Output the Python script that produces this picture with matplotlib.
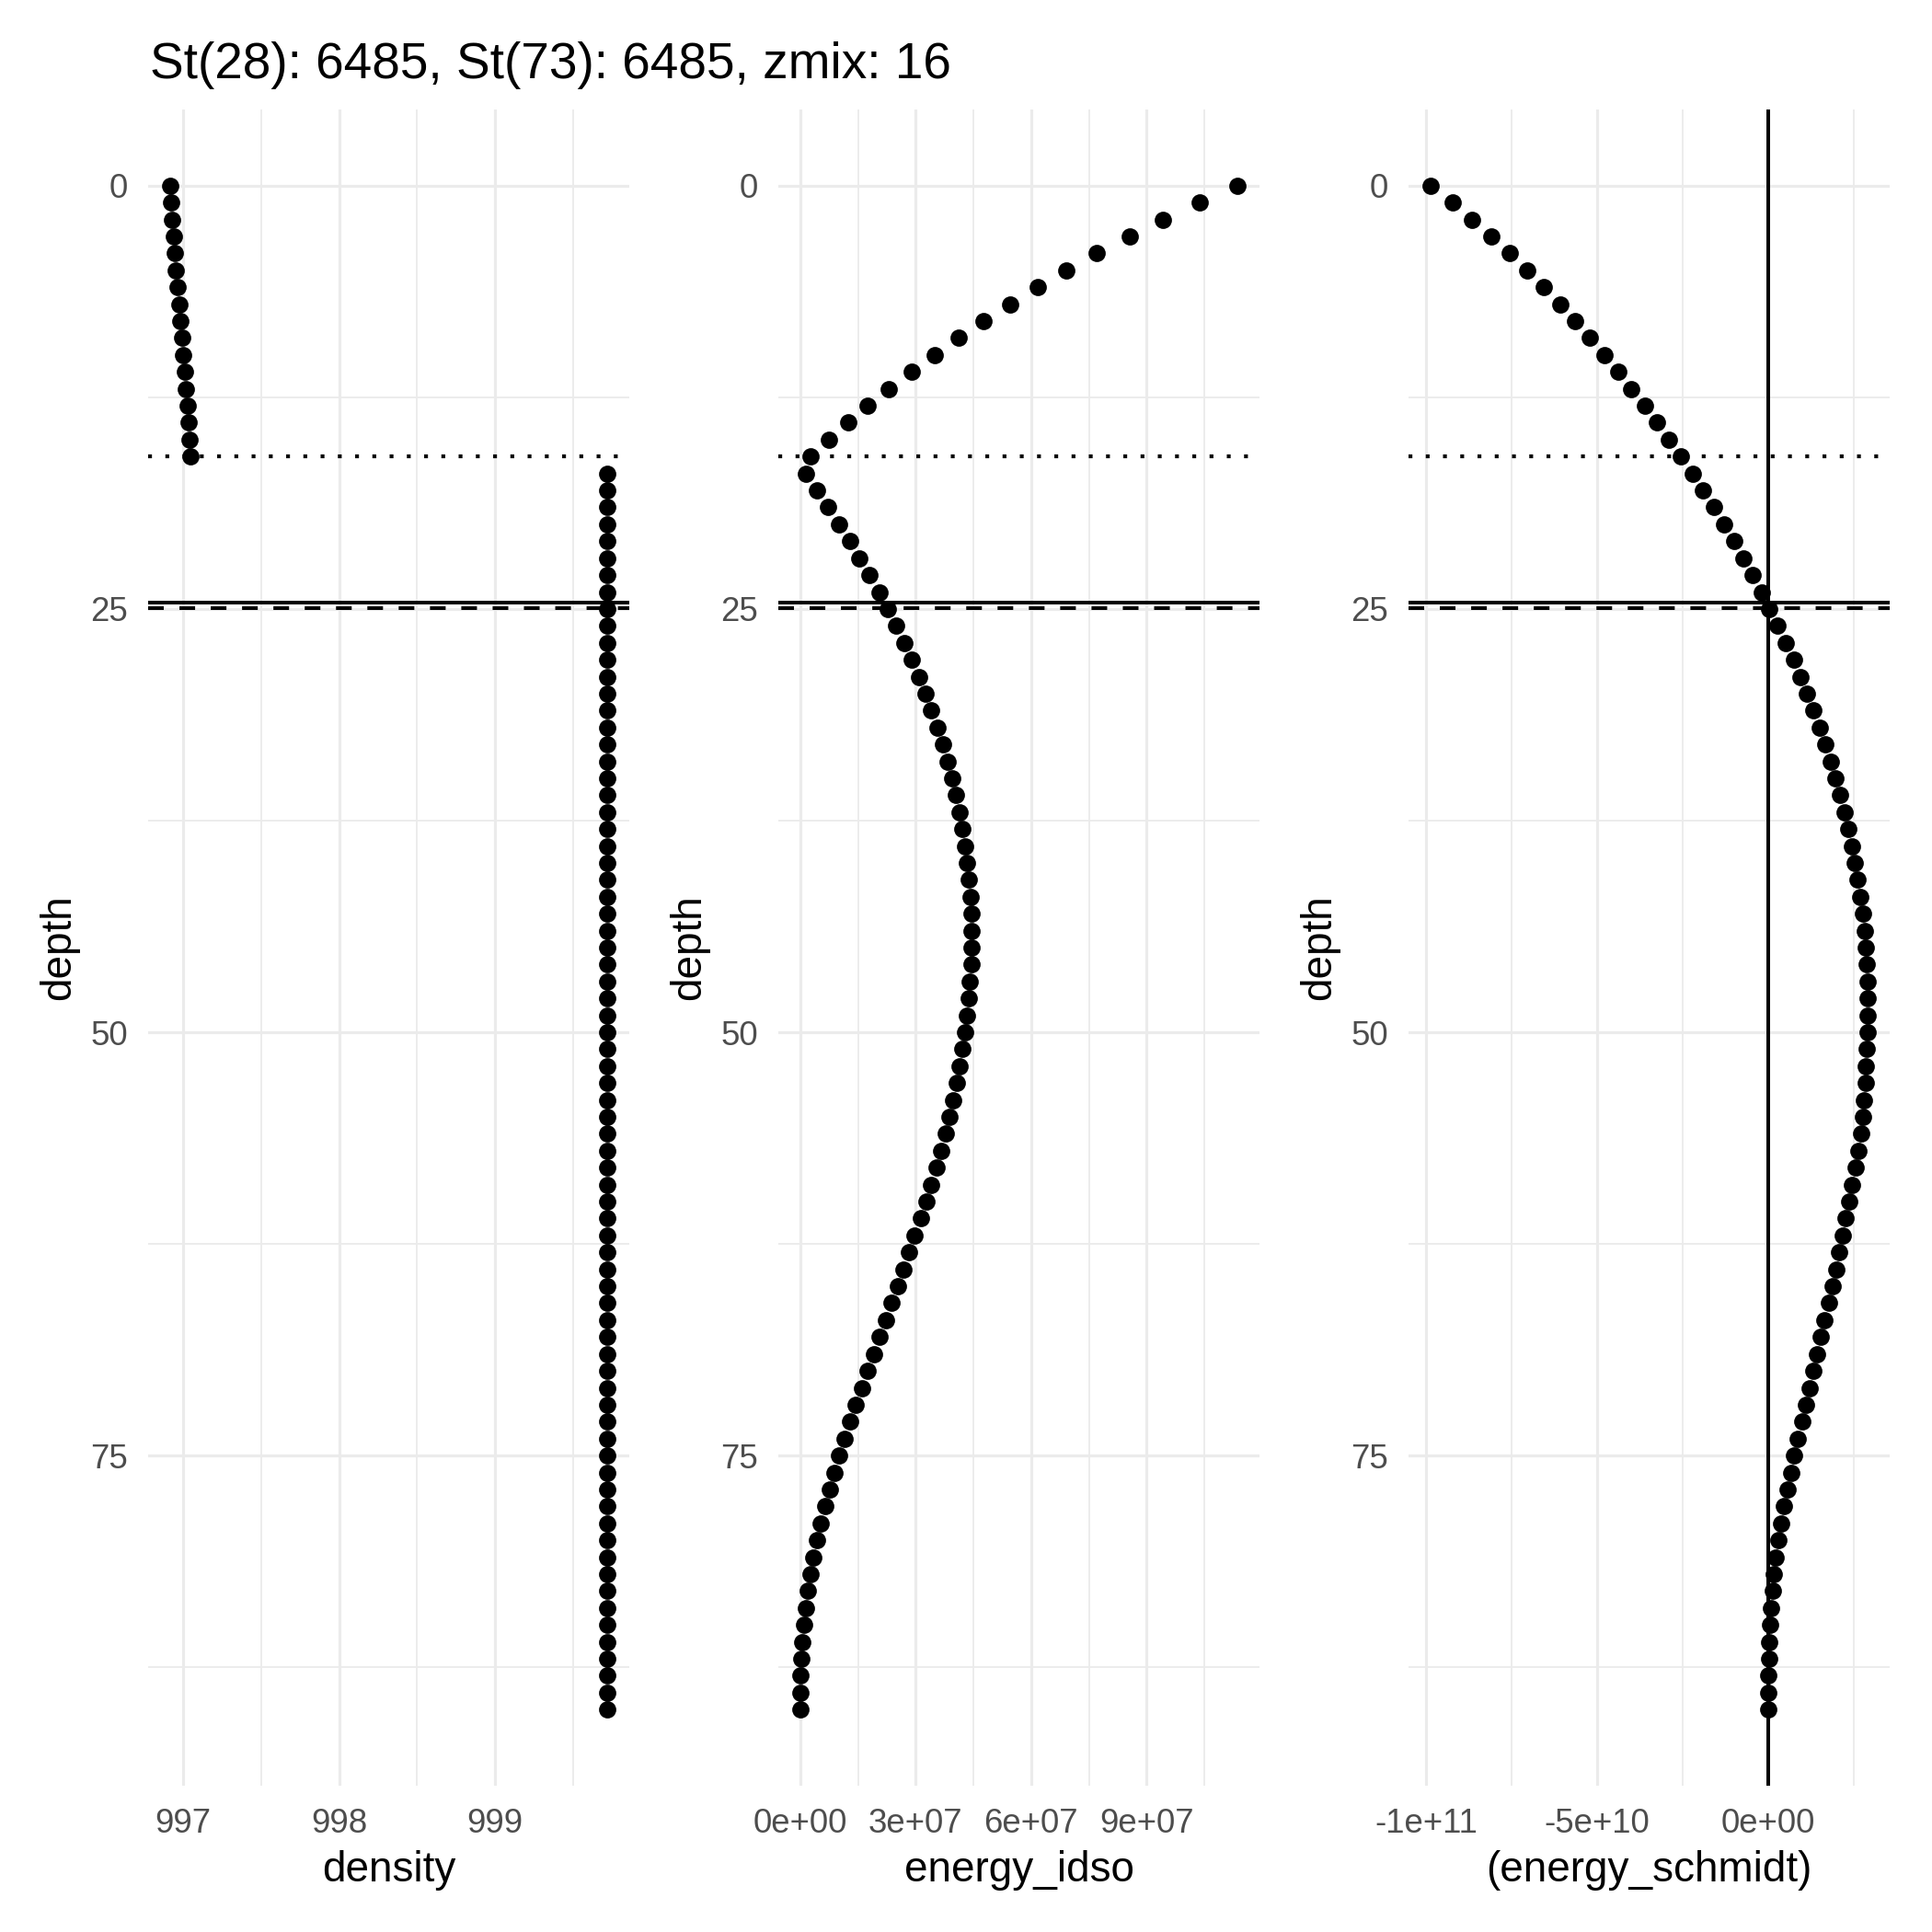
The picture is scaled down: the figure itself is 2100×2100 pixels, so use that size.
import numpy as np
import matplotlib as mpl
mpl.use("Agg")
import matplotlib.pyplot as plt

plt.rcParams["font.family"] = ["Liberation Sans", "DejaVu Sans"]

# --- data ------------------------------------------------------------------
depth = list(range(91))

density_mixed = [996.916, 996.923, 996.932, 996.939, 996.946, 996.955, 996.966,
                 996.975, 996.984, 996.993, 997.002, 997.011, 997.018, 997.027,
                 997.034, 997.041, 997.045]
density_deep = [999.72] * 74
density = density_mixed + density_deep

energy_idso_1e7 = [
    11.36, 10.37, 9.42, 8.55, 7.71, 6.92, 6.17, 5.45, 4.77, 4.11,
    3.49, 2.89, 2.31, 1.76, 1.24, 0.74, 0.27, 0.14, 0.44, 0.73,
    1.01, 1.29, 1.54, 1.80, 2.05, 2.28, 2.50, 2.71, 2.90, 3.08,
    3.25, 3.41, 3.56, 3.70, 3.83, 3.94, 4.04, 4.13, 4.21, 4.28,
    4.33, 4.38, 4.42, 4.44, 4.45, 4.45, 4.44, 4.41, 4.38, 4.33,
    4.28, 4.21, 4.15, 4.07, 3.98, 3.88, 3.77, 3.66, 3.54, 3.41,
    3.27, 3.13, 2.98, 2.83, 2.69, 2.53, 2.38, 2.22, 2.07, 1.91,
    1.75, 1.60, 1.44, 1.30, 1.15, 1.01, 0.88, 0.76, 0.64, 0.54,
    0.44, 0.35, 0.27, 0.20, 0.14, 0.09, 0.05, 0.03, 0.01, 0.01,
    0.00]

energy_schmidt_1e10 = [
    -9.88, -9.24, -8.66, -8.10, -7.57, -7.05, -6.56, -6.09, -5.65, -5.21,
    -4.79, -4.39, -4.00, -3.60, -3.25, -2.89, -2.54, -2.21, -1.90, -1.58,
    -1.29, -1.00, -0.73, -0.45, -0.19, 0.04, 0.28, 0.53, 0.75, 0.94,
    1.14, 1.33, 1.51, 1.67, 1.83, 1.98, 2.11, 2.23, 2.36, 2.45,
    2.54, 2.63, 2.71, 2.77, 2.82, 2.86, 2.89, 2.91, 2.92, 2.92,
    2.91, 2.89, 2.87, 2.85, 2.81, 2.77, 2.72, 2.65, 2.56, 2.46,
    2.37, 2.28, 2.19, 2.09, 1.99, 1.88, 1.78, 1.65, 1.54, 1.44,
    1.33, 1.22, 1.11, 0.99, 0.88, 0.77, 0.67, 0.57, 0.47, 0.39,
    0.30, 0.23, 0.18, 0.13, 0.10, 0.07, 0.04, 0.02, 0.01, 0.01,
    0.01]

energy_idso = np.array(energy_idso_1e7) * 1e7
energy_schmidt = np.array(energy_schmidt_1e10) * 1e10

zmix = 16
thermo_depth = 24.6
meta_depth = 24.95
title = "St(28): 6485, St(73): 6485, zmix: 16"

panels = [
    dict(x=density, xlabel="density",
         major=[997, 998, 999], minor=[997.5, 998.5, 999.5],
         labels=["997", "998", "999"], vline=None),
    dict(x=energy_idso, xlabel="energy_idso",
         major=[0, 3e7, 6e7, 9e7], minor=[1.5e7, 4.5e7, 7.5e7, 1.05e8],
         labels=["0e+00", "3e+07", "6e+07", "9e+07"], vline=None),
    dict(x=energy_schmidt, xlabel="(energy_schmidt)",
         major=[-1e11, -5e10, 0], minor=[-7.5e10, -2.5e10, 2.5e10],
         labels=["-1e+11", "-5e+10", "0e+00"], vline=0),
]
y_major = [0, 25, 50, 75]
y_minor = [12.5, 37.5, 62.5, 87.5]

# --- figure -----------------------------------------------------------------
W = H = 2100
fig = plt.figure(figsize=(7, 7), dpi=300)
lefts = [161, 846, 1531]
width = 523
top, bottom = 119, 1941
GRID = "#EBEBEB"
LW = 0.95

for left, p in zip(lefts, panels):
    ax = fig.add_axes([left / W, 1 - bottom / H, width / W, (bottom - top) / H])
    x = np.asarray(p["x"], dtype=float)
    lo, hi = x.min(), x.max()
    pad = 0.05 * (hi - lo)
    ax.set_xlim(lo - pad, hi + pad)
    ax.set_ylim(90 + 4.5, -4.5)

    for v in p["minor"]:
        ax.axvline(v, color=GRID, lw=0.45, zorder=0)
    for v in p["major"]:
        ax.axvline(v, color=GRID, lw=0.75, zorder=0)
    for v in y_minor:
        ax.axhline(v, color=GRID, lw=0.45, zorder=0)
    for v in y_major:
        ax.axhline(v, color=GRID, lw=0.75, zorder=0)

    ax.axhline(zmix, color="black", lw=1.0, ls=(0, (1, 3.5)), zorder=1)
    ax.axhline(thermo_depth, color="black", lw=LW, zorder=1)
    ax.axhline(meta_depth, color="black", lw=LW, ls=(0, (4.3, 4.3)), zorder=1)
    if p["vline"] is not None:
        ax.axvline(p["vline"], color="black", lw=LW, zorder=1)

    ax.plot(x, depth, "o", ms=4.5, color="black", mec="none", zorder=3)

    ax.set_xticks(p["major"])
    ax.set_xticklabels(p["labels"])
    ax.set_yticks(y_major)
    ax.set_yticklabels([str(v) for v in y_major])
    ax.tick_params(length=0, labelsize=8.8, labelcolor="#4D4D4D")
    ax.tick_params(axis="y", pad=5.3)
    ax.tick_params(axis="x", pad=5.7)
    for s in ax.spines.values():
        s.set_visible(False)
    ax.set_xlabel(p["xlabel"], fontsize=11, labelpad=2.6)
    ax.set_ylabel("depth", fontsize=11, labelpad=3)

fig.text(163 / W, 1 - 85 / H, title, fontsize=13.2, ha="left", va="baseline")

fig.savefig("out.png", dpi=300, facecolor="white")
